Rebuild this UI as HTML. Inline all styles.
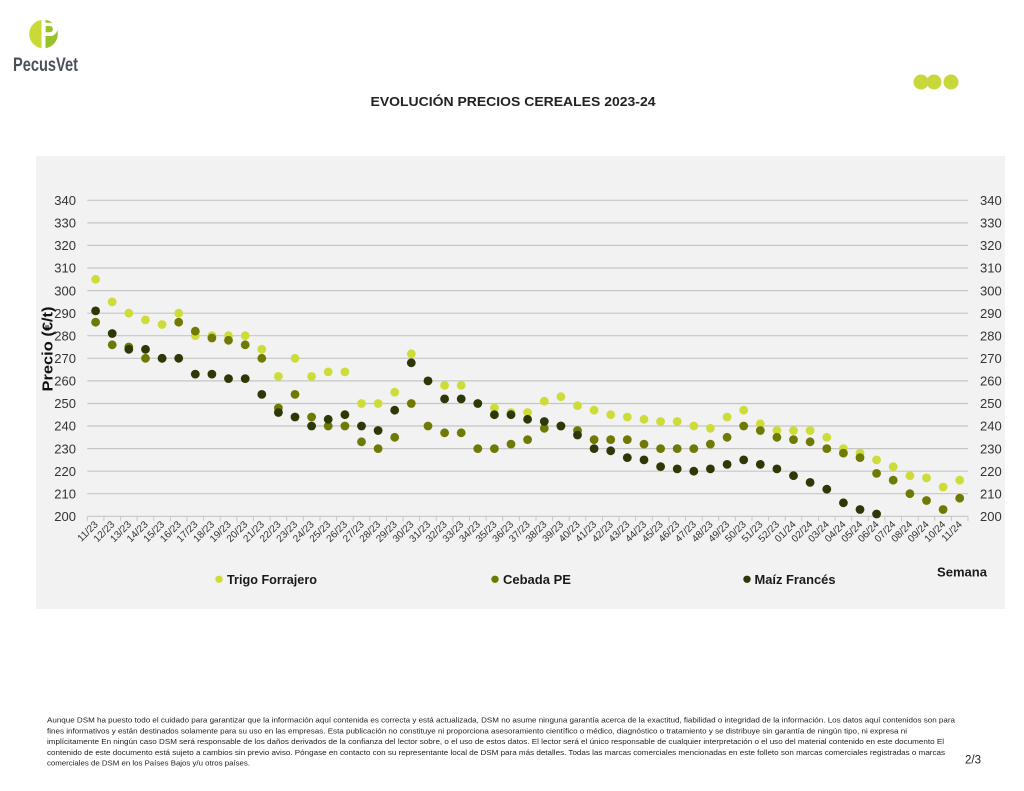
<!DOCTYPE html>
<html><head><meta charset="utf-8"><style>
html,body{margin:0;padding:0;background:#fff;}
svg{display:block;font-family:"Liberation Sans",sans-serif;}
</style></head><body>
<svg width="1024" height="791" viewBox="0 0 1024 791" xmlns="http://www.w3.org/2000/svg">
<rect width="1024" height="791" fill="#fff"/>
<!-- logo -->
<path d="M43.5 19.7 A14.3 14.3 0 0 0 43.5 48.3 Z" fill="#cad935"/>
<path d="M43.5 19.7 A14.3 14.3 0 0 1 43.5 48.3 Z" fill="#98c22a"/>
<rect x="41.5" y="19" width="4" height="30" fill="#fff"/>
<path d="M45.5 22.7 H50.5 A6.6 6.6 0 0 1 50.5 36 H45.5 Z" fill="#fff"/>
<path d="M45.7 26 H50.2 A3.2 3.2 0 0 1 50.2 32.3 H45.7 Z" fill="#98c22a"/>
<text x="13" y="71" font-size="19" font-weight="bold" fill="#4b5159" textLength="65" lengthAdjust="spacingAndGlyphs">PecusVet</text>
<!-- top right dots -->
<circle cx="921" cy="82" r="7.5" fill="#c8d83a"/>
<circle cx="934" cy="82" r="7.5" fill="#c8d83a"/>
<circle cx="951" cy="82" r="7.5" fill="#c8d83a"/>
<!-- title -->
<text x="513" y="106" font-size="13" font-weight="bold" fill="#222" text-anchor="middle" textLength="285" lengthAdjust="spacingAndGlyphs">EVOLUCIÓN PRECIOS CEREALES 2023-24</text>
<!-- panel -->
<rect x="36" y="156" width="969" height="453" fill="#f2f2f2"/>
<!-- gridlines -->
<g stroke="#c6c6c6" stroke-width="1.2">
<line x1="87.3" x2="968" y1="516.3" y2="516.3"/>
<line x1="87.3" x2="968" y1="493.7" y2="493.7"/>
<line x1="87.3" x2="968" y1="471.2" y2="471.2"/>
<line x1="87.3" x2="968" y1="448.6" y2="448.6"/>
<line x1="87.3" x2="968" y1="426.0" y2="426.0"/>
<line x1="87.3" x2="968" y1="403.5" y2="403.5"/>
<line x1="87.3" x2="968" y1="380.9" y2="380.9"/>
<line x1="87.3" x2="968" y1="358.3" y2="358.3"/>
<line x1="87.3" x2="968" y1="335.7" y2="335.7"/>
<line x1="87.3" x2="968" y1="313.2" y2="313.2"/>
<line x1="87.3" x2="968" y1="290.6" y2="290.6"/>
<line x1="87.3" x2="968" y1="268.0" y2="268.0"/>
<line x1="87.3" x2="968" y1="245.4" y2="245.4"/>
<line x1="87.3" x2="968" y1="222.9" y2="222.9"/>
<line x1="87.3" x2="968" y1="200.3" y2="200.3"/>
</g>
<line x1="86.8" x2="970" y1="518.6" y2="518.6" stroke="#c6c6c6" stroke-width="4.6" stroke-dasharray="1 15.617"/>
<!-- y labels left -->
<g font-size="13" fill="#333" text-anchor="end">
<text x="76" y="521">200</text><text x="76" y="498.4">210</text><text x="76" y="475.9">220</text>
<text x="76" y="453.3">230</text><text x="76" y="430.7">240</text><text x="76" y="408.2">250</text>
<text x="76" y="385.6">260</text><text x="76" y="363">270</text><text x="76" y="340.4">280</text>
<text x="76" y="317.9">290</text><text x="76" y="295.3">300</text><text x="76" y="272.7">310</text>
<text x="76" y="250.1">320</text><text x="76" y="227.6">330</text><text x="76" y="205">340</text>
</g>
<g font-size="13" fill="#333">
<text x="980" y="521">200</text><text x="980" y="498.4">210</text><text x="980" y="475.9">220</text>
<text x="980" y="453.3">230</text><text x="980" y="430.7">240</text><text x="980" y="408.2">250</text>
<text x="980" y="385.6">260</text><text x="980" y="363">270</text><text x="980" y="340.4">280</text>
<text x="980" y="317.9">290</text><text x="980" y="295.3">300</text><text x="980" y="272.7">310</text>
<text x="980" y="250.1">320</text><text x="980" y="227.6">330</text><text x="980" y="205">340</text>
</g>
<!-- y axis title -->
<text transform="translate(52.5,349) rotate(-90)" font-size="15" font-weight="bold" fill="#111" text-anchor="middle" textLength="85" lengthAdjust="spacingAndGlyphs">Precio (€/t)</text>
<!-- x labels -->
<g font-size="10" fill="#333" text-anchor="end">
<text transform="translate(98.6,525) rotate(-45)">11/23</text>
<text transform="translate(115.2,525) rotate(-45)">12/23</text>
<text transform="translate(131.8,525) rotate(-45)">13/23</text>
<text transform="translate(148.5,525) rotate(-45)">14/23</text>
<text transform="translate(165.1,525) rotate(-45)">15/23</text>
<text transform="translate(181.7,525) rotate(-45)">16/23</text>
<text transform="translate(198.3,525) rotate(-45)">17/23</text>
<text transform="translate(214.9,525) rotate(-45)">18/23</text>
<text transform="translate(231.5,525) rotate(-45)">19/23</text>
<text transform="translate(248.2,525) rotate(-45)">20/23</text>
<text transform="translate(264.8,525) rotate(-45)">21/23</text>
<text transform="translate(281.4,525) rotate(-45)">22/23</text>
<text transform="translate(298.0,525) rotate(-45)">23/23</text>
<text transform="translate(314.6,525) rotate(-45)">24/23</text>
<text transform="translate(331.2,525) rotate(-45)">25/23</text>
<text transform="translate(347.9,525) rotate(-45)">26/23</text>
<text transform="translate(364.5,525) rotate(-45)">27/23</text>
<text transform="translate(381.1,525) rotate(-45)">28/23</text>
<text transform="translate(397.7,525) rotate(-45)">29/23</text>
<text transform="translate(414.3,525) rotate(-45)">30/23</text>
<text transform="translate(431.0,525) rotate(-45)">31/23</text>
<text transform="translate(447.6,525) rotate(-45)">32/23</text>
<text transform="translate(464.2,525) rotate(-45)">33/23</text>
<text transform="translate(480.8,525) rotate(-45)">34/23</text>
<text transform="translate(497.4,525) rotate(-45)">35/23</text>
<text transform="translate(514.0,525) rotate(-45)">36/23</text>
<text transform="translate(530.6,525) rotate(-45)">37/23</text>
<text transform="translate(547.3,525) rotate(-45)">38/23</text>
<text transform="translate(563.9,525) rotate(-45)">39/23</text>
<text transform="translate(580.5,525) rotate(-45)">40/23</text>
<text transform="translate(597.1,525) rotate(-45)">41/23</text>
<text transform="translate(613.7,525) rotate(-45)">42/23</text>
<text transform="translate(630.3,525) rotate(-45)">43/23</text>
<text transform="translate(647.0,525) rotate(-45)">44/23</text>
<text transform="translate(663.6,525) rotate(-45)">45/23</text>
<text transform="translate(680.2,525) rotate(-45)">46/23</text>
<text transform="translate(696.8,525) rotate(-45)">47/23</text>
<text transform="translate(713.4,525) rotate(-45)">48/23</text>
<text transform="translate(730.1,525) rotate(-45)">49/23</text>
<text transform="translate(746.7,525) rotate(-45)">50/23</text>
<text transform="translate(763.3,525) rotate(-45)">51/23</text>
<text transform="translate(779.9,525) rotate(-45)">52/23</text>
<text transform="translate(796.5,525) rotate(-45)">01/24</text>
<text transform="translate(813.1,525) rotate(-45)">02/24</text>
<text transform="translate(829.8,525) rotate(-45)">03/24</text>
<text transform="translate(846.4,525) rotate(-45)">04/24</text>
<text transform="translate(863.0,525) rotate(-45)">05/24</text>
<text transform="translate(879.6,525) rotate(-45)">06/24</text>
<text transform="translate(896.2,525) rotate(-45)">07/24</text>
<text transform="translate(912.9,525) rotate(-45)">08/24</text>
<text transform="translate(929.5,525) rotate(-45)">09/24</text>
<text transform="translate(946.1,525) rotate(-45)">10/24</text>
<text transform="translate(962.7,525) rotate(-45)">11/24</text>
</g>
<!-- Trigo -->
<g fill="#cedc3a">
<circle r="4.4" cx="95.6" cy="279.3"/><circle r="4.4" cx="112.2" cy="301.9"/><circle r="4.4" cx="128.8" cy="313.2"/><circle r="4.4" cx="145.5" cy="319.9"/><circle r="4.4" cx="162.1" cy="324.5"/><circle r="4.4" cx="178.7" cy="313.2"/><circle r="4.4" cx="195.3" cy="335.7"/><circle r="4.4" cx="211.9" cy="335.7"/><circle r="4.4" cx="228.5" cy="335.7"/><circle r="4.4" cx="245.2" cy="335.7"/><circle r="4.4" cx="261.8" cy="349.3"/><circle r="4.4" cx="278.4" cy="376.4"/><circle r="4.4" cx="295.0" cy="358.3"/><circle r="4.4" cx="311.6" cy="376.4"/><circle r="4.4" cx="328.2" cy="371.9"/><circle r="4.4" cx="344.9" cy="371.9"/><circle r="4.4" cx="361.5" cy="403.5"/><circle r="4.4" cx="378.1" cy="403.5"/><circle r="4.4" cx="394.7" cy="392.2"/><circle r="4.4" cx="411.3" cy="353.8"/><circle r="4.4" cx="428.0" cy="380.9"/><circle r="4.4" cx="444.6" cy="385.4"/><circle r="4.4" cx="461.2" cy="385.4"/><circle r="4.4" cx="477.8" cy="403.5"/><circle r="4.4" cx="494.4" cy="408.0"/><circle r="4.4" cx="511.0" cy="412.5"/><circle r="4.4" cx="527.6" cy="412.5"/><circle r="4.4" cx="544.3" cy="401.2"/><circle r="4.4" cx="560.9" cy="396.7"/><circle r="4.4" cx="577.5" cy="405.7"/><circle r="4.4" cx="594.1" cy="410.2"/><circle r="4.4" cx="610.7" cy="414.7"/><circle r="4.4" cx="627.3" cy="417.0"/><circle r="4.4" cx="644.0" cy="419.3"/><circle r="4.4" cx="660.6" cy="421.5"/><circle r="4.4" cx="677.2" cy="421.5"/><circle r="4.4" cx="693.8" cy="426.0"/><circle r="4.4" cx="710.4" cy="428.3"/><circle r="4.4" cx="727.1" cy="417.0"/><circle r="4.4" cx="743.7" cy="410.2"/><circle r="4.4" cx="760.3" cy="423.8"/><circle r="4.4" cx="776.9" cy="430.5"/><circle r="4.4" cx="793.5" cy="430.5"/><circle r="4.4" cx="810.1" cy="430.5"/><circle r="4.4" cx="826.8" cy="437.3"/><circle r="4.4" cx="843.4" cy="448.6"/><circle r="4.4" cx="860.0" cy="453.1"/><circle r="4.4" cx="876.6" cy="459.9"/><circle r="4.4" cx="893.2" cy="466.6"/><circle r="4.4" cx="909.9" cy="475.7"/><circle r="4.4" cx="926.5" cy="477.9"/><circle r="4.4" cx="943.1" cy="487.0"/><circle r="4.4" cx="959.7" cy="480.2"/>
</g>
<!-- Cebada -->
<g fill="#6f7a04">
<circle r="4.4" cx="95.6" cy="322.2"/><circle r="4.4" cx="112.2" cy="344.8"/><circle r="4.4" cx="128.8" cy="347.0"/><circle r="4.4" cx="145.5" cy="358.3"/><circle r="4.4" cx="162.1" cy="358.3"/><circle r="4.4" cx="178.7" cy="322.2"/><circle r="4.4" cx="195.3" cy="331.2"/><circle r="4.4" cx="211.9" cy="338.0"/><circle r="4.4" cx="228.5" cy="340.3"/><circle r="4.4" cx="245.2" cy="344.8"/><circle r="4.4" cx="261.8" cy="358.3"/><circle r="4.4" cx="278.4" cy="408.0"/><circle r="4.4" cx="295.0" cy="394.4"/><circle r="4.4" cx="311.6" cy="417.0"/><circle r="4.4" cx="328.2" cy="426.0"/><circle r="4.4" cx="344.9" cy="426.0"/><circle r="4.4" cx="361.5" cy="441.8"/><circle r="4.4" cx="378.1" cy="448.6"/><circle r="4.4" cx="394.7" cy="437.3"/><circle r="4.4" cx="411.3" cy="403.5"/><circle r="4.4" cx="428.0" cy="426.0"/><circle r="4.4" cx="444.6" cy="432.8"/><circle r="4.4" cx="461.2" cy="432.8"/><circle r="4.4" cx="477.8" cy="448.6"/><circle r="4.4" cx="494.4" cy="448.6"/><circle r="4.4" cx="511.0" cy="444.1"/><circle r="4.4" cx="527.6" cy="439.6"/><circle r="4.4" cx="544.3" cy="428.3"/><circle r="4.4" cx="560.9" cy="426.0"/><circle r="4.4" cx="577.5" cy="430.5"/><circle r="4.4" cx="594.1" cy="439.6"/><circle r="4.4" cx="610.7" cy="439.6"/><circle r="4.4" cx="627.3" cy="439.6"/><circle r="4.4" cx="644.0" cy="444.1"/><circle r="4.4" cx="660.6" cy="448.6"/><circle r="4.4" cx="677.2" cy="448.6"/><circle r="4.4" cx="693.8" cy="448.6"/><circle r="4.4" cx="710.4" cy="444.1"/><circle r="4.4" cx="727.1" cy="437.3"/><circle r="4.4" cx="743.7" cy="426.0"/><circle r="4.4" cx="760.3" cy="430.5"/><circle r="4.4" cx="776.9" cy="437.3"/><circle r="4.4" cx="793.5" cy="439.6"/><circle r="4.4" cx="810.1" cy="441.8"/><circle r="4.4" cx="826.8" cy="448.6"/><circle r="4.4" cx="843.4" cy="453.1"/><circle r="4.4" cx="860.0" cy="457.6"/><circle r="4.4" cx="876.6" cy="473.4"/><circle r="4.4" cx="893.2" cy="480.2"/><circle r="4.4" cx="909.9" cy="493.7"/><circle r="4.4" cx="926.5" cy="500.5"/><circle r="4.4" cx="943.1" cy="509.5"/><circle r="4.4" cx="959.7" cy="498.2"/>
</g>
<!-- Maiz -->
<g fill="#2d3807">
<circle r="4.4" cx="95.6" cy="310.9"/><circle r="4.4" cx="112.2" cy="333.5"/><circle r="4.4" cx="128.8" cy="349.3"/><circle r="4.4" cx="145.5" cy="349.3"/><circle r="4.4" cx="162.1" cy="358.3"/><circle r="4.4" cx="178.7" cy="358.3"/><circle r="4.4" cx="195.3" cy="374.1"/><circle r="4.4" cx="211.9" cy="374.1"/><circle r="4.4" cx="228.5" cy="378.6"/><circle r="4.4" cx="245.2" cy="378.6"/><circle r="4.4" cx="261.8" cy="394.4"/><circle r="4.4" cx="278.4" cy="412.5"/><circle r="4.4" cx="295.0" cy="417.0"/><circle r="4.4" cx="311.6" cy="426.0"/><circle r="4.4" cx="328.2" cy="419.3"/><circle r="4.4" cx="344.9" cy="414.7"/><circle r="4.4" cx="361.5" cy="426.0"/><circle r="4.4" cx="378.1" cy="430.5"/><circle r="4.4" cx="394.7" cy="410.2"/><circle r="4.4" cx="411.3" cy="362.8"/><circle r="4.4" cx="428.0" cy="380.9"/><circle r="4.4" cx="444.6" cy="398.9"/><circle r="4.4" cx="461.2" cy="398.9"/><circle r="4.4" cx="477.8" cy="403.5"/><circle r="4.4" cx="494.4" cy="414.7"/><circle r="4.4" cx="511.0" cy="414.7"/><circle r="4.4" cx="527.6" cy="419.3"/><circle r="4.4" cx="544.3" cy="421.5"/><circle r="4.4" cx="560.9" cy="426.0"/><circle r="4.4" cx="577.5" cy="435.0"/><circle r="4.4" cx="594.1" cy="448.6"/><circle r="4.4" cx="610.7" cy="450.8"/><circle r="4.4" cx="627.3" cy="457.6"/><circle r="4.4" cx="644.0" cy="459.9"/><circle r="4.4" cx="660.6" cy="466.6"/><circle r="4.4" cx="677.2" cy="468.9"/><circle r="4.4" cx="693.8" cy="471.2"/><circle r="4.4" cx="710.4" cy="468.9"/><circle r="4.4" cx="727.1" cy="464.4"/><circle r="4.4" cx="743.7" cy="459.9"/><circle r="4.4" cx="760.3" cy="464.4"/><circle r="4.4" cx="776.9" cy="468.9"/><circle r="4.4" cx="793.5" cy="475.7"/><circle r="4.4" cx="810.1" cy="482.4"/><circle r="4.4" cx="826.8" cy="489.2"/><circle r="4.4" cx="843.4" cy="502.8"/><circle r="4.4" cx="860.0" cy="509.5"/><circle r="4.4" cx="876.6" cy="514.0"/>
</g>
<!-- legend -->
<circle cx="219" cy="579.3" r="3.7" fill="#cedc3a"/>
<text x="227" y="584" font-size="13" font-weight="bold" fill="#1a1a1a" textLength="90" lengthAdjust="spacingAndGlyphs">Trigo Forrajero</text>
<circle cx="495" cy="579.3" r="3.7" fill="#6f7a04"/>
<text x="503" y="584" font-size="13" font-weight="bold" fill="#1a1a1a">Cebada PE</text>
<circle cx="747" cy="579.3" r="3.7" fill="#2d3807"/>
<text x="754.5" y="584" font-size="13" font-weight="bold" fill="#1a1a1a" textLength="81" lengthAdjust="spacingAndGlyphs">Maíz Francés</text>
<text x="937" y="576.5" font-size="13" font-weight="bold" fill="#1a1a1a" textLength="50" lengthAdjust="spacingAndGlyphs">Semana</text>
<!-- footer -->
<g font-size="7.4" fill="#222">
<text x="47" y="722.5" textLength="908" lengthAdjust="spacingAndGlyphs">Aunque DSM ha puesto todo el cuidado para garantizar que la información aquí contenida es correcta y está actualizada, DSM no asume ninguna garantía acerca de la exactitud, fiabilidad o integridad de la información. Los datos aquí contenidos son para</text>
<text x="47" y="733.3" textLength="860" lengthAdjust="spacingAndGlyphs">fines informativos y están destinados solamente para su uso en las empresas. Esta publicación no constituye ni proporciona asesoramiento científico o médico, diagnóstico o tratamiento y se distribuye sin garantía de ningún tipo, ni expresa ni</text>
<text x="47" y="744.1" textLength="897" lengthAdjust="spacingAndGlyphs">implícitamente En ningún caso DSM será responsable de los daños derivados de la confianza del lector sobre, o el uso de estos datos. El lector será el único responsable de cualquier interpretación o el uso del material contenido en este documento El</text>
<text x="47" y="754.9" textLength="898" lengthAdjust="spacingAndGlyphs">contenido de este documento está sujeto a cambios sin previo aviso. Póngase en contacto con su representante local de DSM para más detalles. Todas las marcas comerciales mencionadas en este folleto son marcas comerciales registradas o marcas</text>
<text x="47" y="765.7" textLength="203" lengthAdjust="spacingAndGlyphs">comerciales de DSM en los Países Bajos y/u otros países.</text>
</g>
<text x="965" y="763.5" font-size="11.5" fill="#222">2/3</text>
</svg>
</body></html>
